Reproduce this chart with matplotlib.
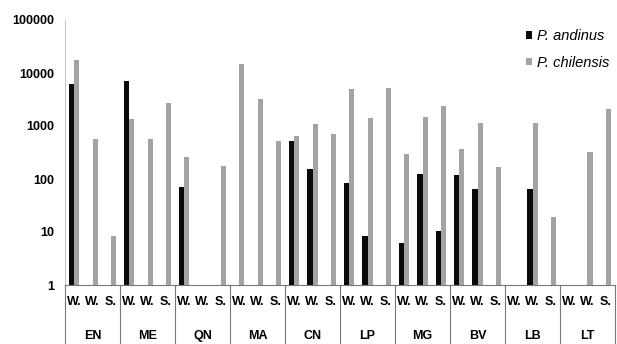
import numpy as np
import matplotlib.pyplot as plt
import matplotlib as mpl

mpl.rcParams['font.family'] = ['Liberation Sans', 'DejaVu Sans']

# Data (nan = no bar)
sites = ['EN', 'ME', 'QN', 'MA', 'CN', 'LP', 'MG', 'BV', 'LB', 'LT']
seasons = ['W.', 'W.', 'S.']
nan = np.nan
andinus = [6200, nan, nan,
           7000, nan, nan,
           70, nan, nan,
           nan, nan, nan,
           520, 155, nan,
           84, 8.4, nan,
           6.2, 124, 10.4,
           120, 65, nan,
           nan, 65, nan,
           nan, nan, nan]
chilensis = [17500, 570, 8.4,
             1350, 570, 2700,
             260, nan, 176,
             14800, 3200, 520,
             650, 1100, 700,
             5000, 1420, 5200,
             295, 1470, 2400,
             370, 1150, 170,
             nan, 1150, 19,
             nan, 325, 2100]

fig = plt.figure(figsize=(6.17, 3.44), dpi=100)
ax = fig.add_axes([65 / 617, 59 / 344, 550 / 617, 265 / 344])

x = np.arange(len(andinus))
w = 0.29
a = np.array(andinus, dtype=float)
c = np.array(chilensis, dtype=float)
ma = ~np.isnan(a)
mc = ~np.isnan(c)
ax.bar(x[ma] - w / 2, a[ma], w, color='#0a0a0a', label='P. andinus')
ax.bar(x[mc] + w / 2, c[mc], w, color='#a3a3a3', label='P. chilensis')

ax.set_yscale('log')
ax.set_ylim(1, 100000)
ax.set_xlim(-0.5, len(x) - 0.5)
ax.set_yticks([1, 10, 100, 1000, 10000, 100000])
ax.set_yticklabels(['1', '10', '100', '1000', '10000', '100000'], fontweight='bold', fontsize=9)
ax.yaxis.set_minor_locator(mpl.ticker.NullLocator())
ax.tick_params(axis='y', length=0, pad=8)
ax.set_xticks([])

for s in ['top', 'right']:
    ax.spines[s].set_visible(False)
ax.spines['left'].set_color('#c8c8c8')
ax.spines['bottom'].set_color('#777777')
ax.spines['bottom'].set_linewidth(0.8)

# Category table below the axis
tr = ax.get_xaxis_transform()
for k in range(len(sites) + 1):
    xb = k * 3 - 0.5
    ax.plot([xb, xb], [0, -0.3], transform=tr, color='#777777', lw=0.8, clip_on=False)
for i in x:
    ax.text(i, -0.064, seasons[i % 3], transform=tr, ha='center', va='center',
            fontsize=9, fontweight='bold')
for k, name in enumerate(sites):
    ax.text(k * 3 + 1, -0.192, name, transform=tr, ha='center', va='center',
            fontsize=9, fontweight='bold')

leg = ax.legend(loc='upper left', bbox_to_anchor=(0.815, 1.015), frameon=False,
                handlelength=0.4, handleheight=0.4, handletextpad=0.35,
                labelspacing=0.85, prop={'style': 'italic', 'size': 10.5})

fig.savefig('out.png', dpi=100)
